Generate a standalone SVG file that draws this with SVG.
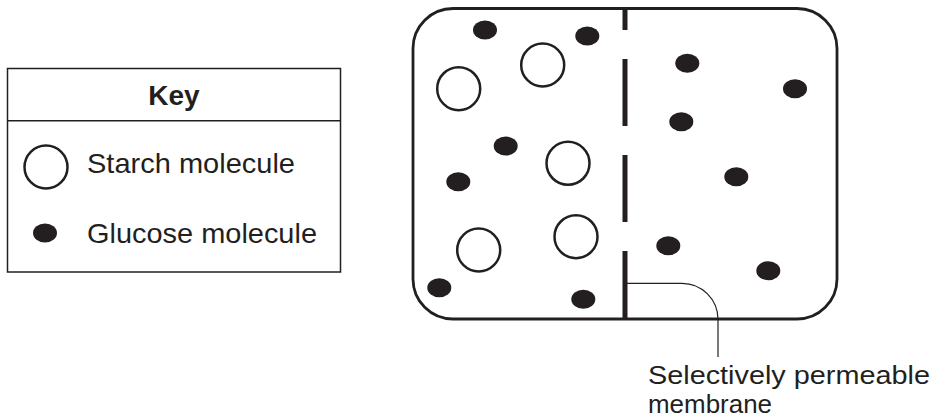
<svg xmlns="http://www.w3.org/2000/svg" width="935" height="420" viewBox="0 0 935 420">
<style>
.txt{font-family:"Liberation Sans",Arial,Helvetica,sans-serif;font-size:28px;fill:#231f20}
.key{font-weight:bold}
.lbl{font-size:26px}
.starch{fill:#fff;stroke:#231f20;stroke-width:2.5}
.glucose{fill:#231f20}
.box{fill:#fff;stroke:#231f20}
</style>
<rect width="935" height="420" fill="#fff"/>
<g id="key">
<rect class="box" x="7.5" y="68.5" width="333" height="203.5" stroke-width="1.5"/>
<line x1="7.5" y1="120.7" x2="340.5" y2="120.7" stroke="#231f20" stroke-width="1.5"/>
<text class="txt key" x="174" y="105" text-anchor="middle">Key</text>
<circle class="starch" cx="46" cy="167" r="21.5"/>
<text class="txt" x="87" y="173" textLength="208" lengthAdjust="spacingAndGlyphs">Starch molecule</text>
<ellipse class="glucose" cx="45" cy="233" rx="12" ry="9.5"/>
<text class="txt" x="87" y="243" textLength="230" lengthAdjust="spacingAndGlyphs">Glucose molecule</text>
</g>
<g id="container">
<rect class="box" x="413" y="8.5" width="424" height="310.5" rx="40" ry="40" stroke-width="2.8"/>
</g>
<g id="membrane" stroke="#231f20" stroke-width="5">
<line x1="625" y1="8" x2="625" y2="30"/>
<line x1="625" y1="59" x2="625" y2="126"/>
<line x1="625" y1="155" x2="625" y2="222"/>
<line x1="625" y1="251" x2="625" y2="319"/>
</g>
<g id="starch-molecules">
<circle class="starch" cx="542.7" cy="65" r="21.5"/>
<circle class="starch" cx="458.7" cy="88.7" r="21.5"/>
<circle class="starch" cx="568" cy="163.3" r="21.5"/>
<circle class="starch" cx="478.7" cy="250" r="21.5"/>
<circle class="starch" cx="576" cy="236.7" r="21.5"/>
</g>
<g id="glucose-molecules">
<ellipse class="glucose" cx="485" cy="30" rx="12" ry="9.5"/>
<ellipse class="glucose" cx="587.3" cy="36" rx="12" ry="9.5"/>
<ellipse class="glucose" cx="505.7" cy="146" rx="12" ry="9.5"/>
<ellipse class="glucose" cx="458.3" cy="181.7" rx="12" ry="9.5"/>
<ellipse class="glucose" cx="439.3" cy="287.7" rx="12" ry="9.5"/>
<ellipse class="glucose" cx="583.3" cy="299.3" rx="12" ry="9.5"/>
<ellipse class="glucose" cx="687.3" cy="63.3" rx="12" ry="9.5"/>
<ellipse class="glucose" cx="795" cy="88.7" rx="12" ry="9.5"/>
<ellipse class="glucose" cx="681.3" cy="121.7" rx="12" ry="9.5"/>
<ellipse class="glucose" cx="736.3" cy="176.7" rx="12" ry="9.5"/>
<ellipse class="glucose" cx="668.3" cy="245.7" rx="12" ry="9.5"/>
<ellipse class="glucose" cx="768.3" cy="270.7" rx="12" ry="9.5"/>
</g>
<g id="connectors">
<path d="M627,283.3 H682 A36,36 0 0 1 718,319.3 V357" fill="none" stroke="#231f20" stroke-width="1.2"/>
</g>
<g id="label">
<text class="txt lbl" x="648" y="384" textLength="282" lengthAdjust="spacingAndGlyphs">Selectively permeable</text>
<text class="txt lbl" x="648" y="413" textLength="124" lengthAdjust="spacingAndGlyphs">membrane</text>
</g>
</svg>
